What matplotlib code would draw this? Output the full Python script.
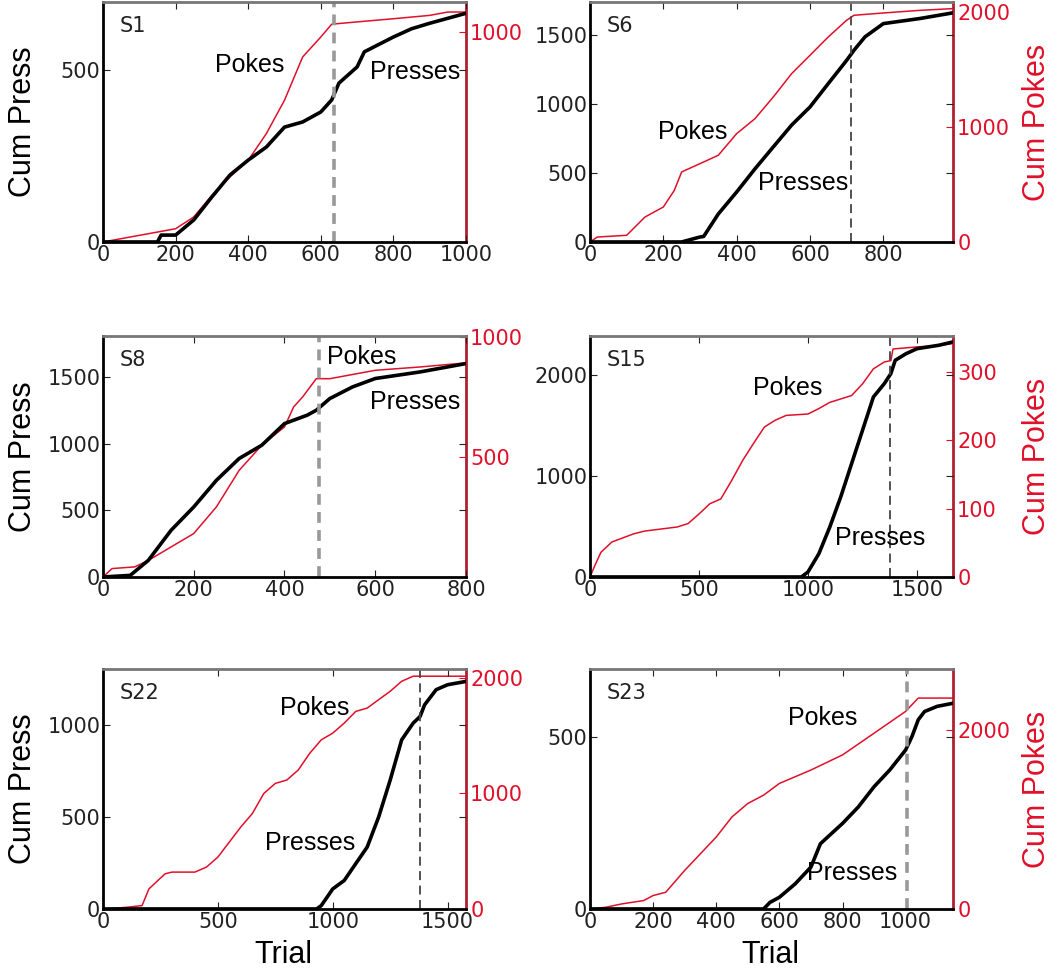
import matplotlib
matplotlib.use("Agg")
import matplotlib.pyplot as plt

plt.rcParams['font.family'] = ['Liberation Sans', 'DejaVu Sans']

RED = '#e0102a'

# ---- data ----
# S1
s1_press_x = [0, 150, 160, 200, 250, 300, 350, 400, 450, 500, 550, 600, 630, 650, 700, 720, 800, 850, 900, 1000]
s1_press_y = [0, 0, 20, 20, 64, 131, 195, 238, 276, 334, 349, 378, 413, 462, 509, 553, 596, 620, 636, 665]
s1_poke_x = [0, 200, 250, 300, 350, 400, 450, 500, 550, 600, 630, 700, 800, 900, 950, 1000]
s1_poke_y = [0, 63, 119, 222, 310, 389, 516, 675, 881, 976, 1037, 1048, 1063, 1079, 1095, 1095]

# S6
s6_press_x = [0, 250, 300, 310, 350, 400, 450, 500, 550, 600, 650, 700, 720, 750, 800, 900, 990]
s6_press_y = [0, 0, 36, 40, 203, 362, 530, 689, 847, 978, 1148, 1316, 1389, 1486, 1582, 1619, 1660]
s6_poke_x = [0, 20, 100, 150, 200, 230, 250, 300, 350, 400, 450, 500, 550, 600, 650, 700, 720, 800, 900, 990]
s6_poke_y = [0, 43, 58, 217, 304, 449, 609, 681, 754, 942, 1072, 1261, 1464, 1623, 1783, 1928, 1971, 1991, 2014, 2029]

# S8
s8_press_x = [0, 60, 100, 150, 200, 250, 300, 350, 400, 450, 470, 500, 550, 600, 700, 800]
s8_press_y = [0, 12, 125, 350, 525, 725, 888, 988, 1150, 1213, 1250, 1338, 1425, 1488, 1538, 1600]
s8_poke_x = [0, 20, 70, 100, 150, 200, 250, 300, 350, 400, 420, 440, 470, 500, 600, 700, 800]
s8_poke_y = [0, 35, 42, 69, 125, 181, 292, 444, 549, 625, 708, 750, 826, 826, 861, 875, 892]

# S15
s15_press_x = [0, 970, 1000, 1050, 1100, 1150, 1200, 1250, 1300, 1350, 1380, 1400, 1450, 1500, 1600, 1665]
s15_press_y = [0, 0, 50, 231, 495, 792, 1122, 1452, 1782, 1914, 2013, 2145, 2211, 2260, 2294, 2327]
s15_poke_x = [0, 20, 50, 100, 200, 250, 400, 450, 500, 550, 600, 650, 700, 750, 800, 850, 900, 1000,
              1050, 1100, 1200, 1250, 1300, 1350, 1380, 1390, 1500, 1600, 1665]
s15_poke_y = [0, 15, 36, 51, 63, 67, 73, 78, 92, 107, 114, 141, 170, 195, 219, 229, 236, 238,
              246, 255, 265, 282, 304, 314, 316, 333, 336, 338, 341]

# S22
s22_press_x = [0, 930, 950, 1000, 1050, 1100, 1150, 1200, 1250, 1300, 1350, 1380, 1400, 1450, 1500, 1580]
s22_press_y = [0, 0, 18, 109, 155, 246, 337, 501, 701, 920, 1011, 1047, 1111, 1193, 1220, 1238]
s22_poke_x = [0, 100, 170, 200, 270, 300, 400, 450, 500, 600, 650, 700, 750, 800, 850, 900, 950, 1000,
              1050, 1100, 1150, 1200, 1250, 1300, 1350, 1400, 1580]
s22_poke_y = [0, 14, 29, 174, 304, 319, 319, 362, 449, 710, 826, 1000, 1087, 1116, 1203, 1348, 1464, 1522,
              1609, 1710, 1739, 1812, 1884, 1971, 2015, 2015, 2015]

# S23
s23_press_x = [0, 550, 570, 600, 650, 700, 730, 800, 850, 900, 950, 1000, 1020, 1040, 1060, 1100, 1150]
s23_press_y = [0, 0, 19, 34, 73, 122, 190, 249, 297, 356, 405, 463, 502, 551, 575, 590, 599]
s23_poke_x = [0, 50, 100, 170, 200, 240, 300, 400, 450, 500, 550, 600, 700, 800, 900, 1000, 1040, 1150]
s23_poke_y = [0, 19, 56, 94, 150, 187, 431, 805, 1030, 1180, 1273, 1404, 1554, 1723, 1966, 2210, 2359, 2359]

fig = plt.figure(figsize=(10.5, 9.71), dpi=100)

L, R = 0.0981, 0.5619
W = 0.3457
rows = [(0.7508, 0.2472), (0.4058, 0.2482), (0.0639, 0.2472)]


def panel(pos, name, px, py, kx, ky, xlim, ylim, ylim2, xt, yt, yt2, vline, vstyle,
          pokes_xy, presses_xy, left_label, right_label, xlabel):
    ax = fig.add_axes(pos)
    ax2 = ax.twinx()
    ax.set_zorder(ax2.get_zorder() + 1)
    ax.patch.set_visible(False)

    ax2.plot(kx, ky, color=RED, lw=1.1)
    ax.plot(px, py, color='black', lw=2.6)
    ax.axvline(vline, **vstyle)

    ax.set_xlim(*xlim)
    ax.set_ylim(*ylim)
    ax2.set_ylim(*ylim2)
    ax.set_xticks(xt)
    ax.set_yticks(yt)
    ax2.set_yticks(yt2)

    ax.tick_params(direction='in', length=5, labelsize=15, top=True, right=True,
                   colors='#222222', labelfontfamily='DejaVu Sans', pad=2)
    ax2.tick_params(direction='in', length=5, labelsize=15, colors=RED,
                    labelfontfamily='DejaVu Sans', pad=3)
    for s in ['left', 'bottom']:
        ax.spines[s].set_linewidth(2)
    ax.spines['top'].set_color('#777777')
    ax.spines['top'].set_linewidth(2)
    ax.spines['right'].set_visible(False)
    ax2.spines['right'].set_color('#b22030')
    ax2.spines['right'].set_linewidth(2)
    for s in ['left', 'bottom', 'top']:
        ax2.spines[s].set_visible(False)

    ax.text(0.045, 0.90, name, transform=ax.transAxes, fontsize=15, va='center',
            color='#222222', family='DejaVu Sans')
    ax.text(*pokes_xy, 'Pokes', fontsize=18, ha='center', va='center')
    ax.text(*presses_xy, 'Presses', fontsize=18, ha='center', va='center')
    if left_label:
        ax.set_ylabel('Cum Press', fontsize=22)
        ax.yaxis.set_label_coords(-0.18, 0.5)
    if right_label:
        ax2.set_ylabel('Cum Pokes', fontsize=22, color=RED)
        ax2.yaxis.set_label_coords(1.19, 0.5)
    if xlabel:
        ax.set_xlabel('Trial', fontsize=22)
        ax.xaxis.set_label_coords(0.496, -0.13)
    return ax


light = dict(color='#999999', ls=(0, (3, 2)), lw=2.6)
dark = dict(color='#444444', ls=(0, (5, 3)), lw=1.3)

panel([L, rows[0][0], W, rows[0][1]], 'S1', s1_press_x, s1_press_y, s1_poke_x, s1_poke_y,
      (0, 1000), (0, 698), (0, 1143), [0, 200, 400, 600, 800, 1000], [0, 500], [1000],
      635, light, (405, 514), (860, 494), True, False, False)
panel([R, rows[0][0], W, rows[0][1]], 'S6', s6_press_x, s6_press_y, s6_poke_x, s6_poke_y,
      (0, 990), (0, 1739), (0, 2087), [0, 200, 400, 600, 800], [0, 500, 1000, 1500], [0, 1000, 2000],
      712, dark, (281, 797), (581, 428), False, True, False)
panel([L, rows[1][0], W, rows[1][1]], 'S8', s8_press_x, s8_press_y, s8_poke_x, s8_poke_y,
      (0, 800), (0, 1807), (0, 1004), [0, 200, 400, 600, 800], [0, 500, 1000, 1500], [500, 1000],
      475, light, (571, 1650), (688, 1313), True, False, False)
panel([R, rows[1][0], W, rows[1][1]], 'S15', s15_press_x, s15_press_y, s15_poke_x, s15_poke_y,
      (0, 1665), (0, 2386), (0, 352), [0, 500, 1000, 1500], [0, 1000, 2000], [0, 100, 200, 300],
      1375, dark, (908, 1871), (1330, 386), False, True, False)
panel([L, rows[2][0], W, rows[2][1]], 'S22', s22_press_x, s22_press_y, s22_poke_x, s22_poke_y,
      (0, 1580), (0, 1306), (0, 2078), [0, 500, 1000, 1500], [0, 500, 1000], [0, 1000, 2000],
      1380, dark, (923, 1093), (901, 361), True, False, True)
panel([R, rows[2][0], W, rows[2][1]], 'S23', s23_press_x, s23_press_y, s23_poke_x, s23_poke_y,
      (0, 1150), (0, 699), (0, 2685), [0, 200, 400, 600, 800, 1000], [0, 500], [0, 2000],
      1005, light, (738, 556), (830, 105), False, True, True)

fig.savefig('out.png', dpi=100)
